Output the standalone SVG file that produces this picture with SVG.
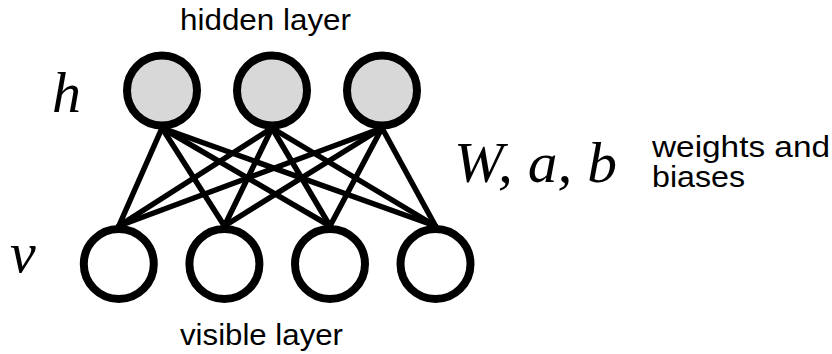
<svg xmlns="http://www.w3.org/2000/svg" width="832" height="354" viewBox="0 0 832 354">
  <style>
    .unit { stroke: #000; stroke-width: 8; }
    .hidden { fill: #d8d8d8; }
    .visible { fill: #fff; }
    .edge { stroke: #000; stroke-width: 5.5; stroke-linecap: round; }
    .label { font-family: "Liberation Sans", Arial, sans-serif; font-size: 29px; fill: #000; }
    .math { font-family: "Liberation Serif", "Times New Roman", serif; font-style: italic; font-size: 58px; fill: #000; }
  </style>
  <rect width="832" height="354" fill="#fff"/>

  <!-- weights: every hidden unit connects to every visible unit -->
  <g id="connectors">
    <line class="edge" x1="162" y1="128" x2="118.8" y2="226"/>
    <line class="edge" x1="162" y1="128" x2="224.4" y2="226"/>
    <line class="edge" x1="162" y1="128" x2="330" y2="226"/>
    <line class="edge" x1="162" y1="128" x2="435.5" y2="226"/>
    <line class="edge" x1="272" y1="128" x2="118.8" y2="226"/>
    <line class="edge" x1="272" y1="128" x2="224.4" y2="226"/>
    <line class="edge" x1="272" y1="128" x2="330" y2="226"/>
    <line class="edge" x1="272" y1="128" x2="435.5" y2="226"/>
    <line class="edge" x1="382" y1="128" x2="118.8" y2="226"/>
    <line class="edge" x1="382" y1="128" x2="224.4" y2="226"/>
    <line class="edge" x1="382" y1="128" x2="330" y2="226"/>
    <line class="edge" x1="382" y1="128" x2="435.5" y2="226"/>
  </g>

  <!-- hidden units -->
  <g id="h1"><circle class="unit hidden" cx="162" cy="90.5" r="35"/></g>
  <g id="h2"><circle class="unit hidden" cx="272" cy="90.5" r="35"/></g>
  <g id="h3"><circle class="unit hidden" cx="382" cy="90.5" r="35"/></g>

  <!-- visible units -->
  <g id="v1"><circle class="unit visible" cx="118.8" cy="264" r="35"/></g>
  <g id="v2"><circle class="unit visible" cx="224.4" cy="264" r="35"/></g>
  <g id="v3"><circle class="unit visible" cx="330" cy="264" r="35"/></g>
  <g id="v4"><circle class="unit visible" cx="435.5" cy="264" r="35"/></g>

  <!-- labels -->
  <g id="labels">
    <text class="label" x="180" y="30" textLength="171" lengthAdjust="spacingAndGlyphs">hidden layer</text>
    <text class="label" x="180" y="345" textLength="163" lengthAdjust="spacingAndGlyphs">visible layer</text>
    <text class="label" x="652" y="157" textLength="178" lengthAdjust="spacingAndGlyphs">weights and</text>
    <text class="label" x="652" y="187" textLength="93" lengthAdjust="spacingAndGlyphs">biases</text>
    <text class="math" x="52" y="112">h</text>
    <text class="math" x="10" y="272">v</text>
    <text class="math" x="454" y="182" textLength="163" lengthAdjust="spacingAndGlyphs">W, a, b</text>
  </g>
</svg>
